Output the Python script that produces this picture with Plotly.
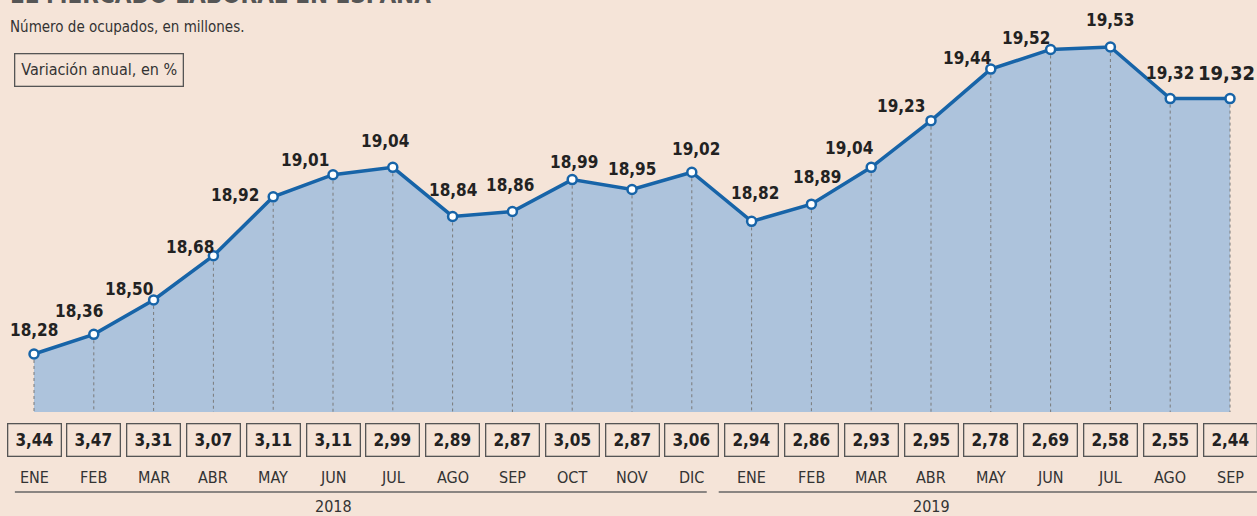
import plotly.graph_objects as go

# ---- data ----
months = ["ENE", "FEB", "MAR", "ABR", "MAY", "JUN", "JUL", "AGO", "SEP", "OCT", "NOV", "DIC",
          "ENE", "FEB", "MAR", "ABR", "MAY", "JUN", "JUL", "AGO", "SEP"]
years = ["2018", "2019"]
ocupados = [18.28, 18.36, 18.50, 18.68, 18.92, 19.01, 19.04, 18.84, 18.86, 18.99, 18.95, 19.02,
            18.82, 18.89, 19.04, 19.23, 19.44, 19.52, 19.53, 19.32]
ocupados_last = 19.32
variacion = [3.44, 3.47, 3.31, 3.07, 3.11, 3.11, 2.99, 2.89, 2.87, 3.05, 2.87, 3.06,
             2.94, 2.86, 2.93, 2.95, 2.78, 2.69, 2.58, 2.55, 2.44]

values = ocupados + [ocupados_last]
xs = list(range(len(values)))

# label offsets (pixels) for value labels
label_dx = [0, -15, -25, -23, -38, -28, -8, 0, -2, 2, 0, 4, 3, 6, -22, -30, -24, -25, 0, 0, 27]
label_dy = [24, 23, 11, 9, 2, 15, 26, 26, 27, 18, 20, 23, 28, 27, 19, 15, 11, 11, 27, 26, 26]

def fmt(v):
    return f"{v:.2f}".replace(".", ",")

FONT = "Liberation Sans Narrow, DejaVu Sans Condensed, Arial Narrow, sans-serif"
BG = "#f5e4d8"
BLUE = "#1764a8"
FILL = "#adc3dc"
Y0 = 18.0438
Y1 = 19.7214

W, H = 1257, 516
PLOT_BOTTOM = 412  # pixel

def py(pix):  # pixel y -> paper y
    return (PLOT_BOTTOM - pix) / PLOT_BOTTOM

def px(pix):
    return pix / W

fig = go.Figure()
# area fill
fig.add_trace(go.Scatter(
    x=xs, y=values, mode="lines", fill="tozeroy", fillcolor=FILL,
    line=dict(width=0, color=FILL), hoverinfo="skip",
))
# dashed drop lines
dx_, dy_ = [], []
for i, v in enumerate(values):
    dx_ += [i, i, None]
    dy_ += [v, Y0, None]
fig.add_trace(go.Scatter(
    x=dx_, y=dy_, mode="lines", line=dict(color="#7a7a7a", width=1, dash="3px,3px"),
    hoverinfo="skip",
))
# main line
fig.add_trace(go.Scatter(
    x=xs, y=values, mode="lines+markers",
    line=dict(color=BLUE, width=3.5),
    marker=dict(size=9, color="white", line=dict(color=BLUE, width=2.5)),
    hoverinfo="skip", cliponaxis=False,
))

shapes = []
annotations = []
for i, v in enumerate(values):
    big = i == len(values) - 1
    annotations.append(dict(x=i, y=v, xref="x", yref="y", text=f"<b>{fmt(v)}</b>",
                            showarrow=False, xshift=label_dx[i], yshift=label_dy[i],
                            font=dict(family=FONT, size=20 if big else 17, color="#222"),
                            yanchor="middle", xanchor="right" if big else "center"))
    # variation box
    annotations.append(dict(x=i, y=py(440), xref="x", yref="paper", text=f"<b>{fmt(variacion[i])}</b>",
                            showarrow=False, width=48, height=27, borderpad=2, borderwidth=1.3,
                            bordercolor="#555", bgcolor=BG,
                            font=dict(family=FONT, size=17, color="#222"),
                            yanchor="middle", xanchor="center", align="center", valign="middle"))
    annotations.append(dict(x=i, y=py(478), xref="x", yref="paper", text=months[i],
                            showarrow=False, font=dict(family=FONT, size=16, color="#333"),
                            yanchor="middle", xanchor="center"))

# year separators
shapes.append(dict(type="line", xref="x", yref="paper", x0=-0.32, x1=11.25, y0=py(492), y1=py(492),
                   line=dict(color="#666", width=1.5)))
shapes.append(dict(type="line", xref="x", yref="paper", x0=11.45, x1=20.45, y0=py(492), y1=py(492),
                   line=dict(color="#666", width=1.5)))
for yr, xc in zip(years, [5, 15]):
    annotations.append(dict(x=xc, y=py(506), xref="x", yref="paper", text=yr, showarrow=False,
                            font=dict(family=FONT, size=16, color="#333"),
                            yanchor="middle", xanchor="center"))

# titles
annotations.append(dict(x=px(8), y=py(-5), xref="paper", yref="paper",
                        text="<b>EL MERCADO LABORAL EN ESPAÑA</b>", showarrow=False,
                        font=dict(family=FONT, size=24, color="#555"),
                        xanchor="left", yanchor="middle"))
annotations.append(dict(x=px(8), y=py(27), xref="paper", yref="paper",
                        text="Número de ocupados, en millones.", showarrow=False,
                        font=dict(family=FONT, size=15, color="#333"),
                        xanchor="left", yanchor="middle"))
annotations.append(dict(x=px(14), y=py(70), xref="paper", yref="paper",
                        text="Variación anual, en %", showarrow=False,
                        font=dict(family=FONT, size=16, color="#333"),
                        xanchor="left", yanchor="middle", bordercolor="#555", borderwidth=1.3,
                        borderpad=6, bgcolor=BG))

fig.update_layout(
    width=W, height=H,
    margin=dict(l=0, r=0, t=0, b=H - PLOT_BOTTOM),
    paper_bgcolor=BG, plot_bgcolor=BG,
    showlegend=False,
    xaxis=dict(range=[-0.5686, 20.4515], visible=False, fixedrange=True),
    yaxis=dict(range=[Y0, Y1], visible=False, fixedrange=True),
    shapes=shapes, annotations=annotations,
)

fig.write_html("out.html", config={"displayModeBar": False},
               post_script="document.body.style.margin='0';document.body.style.overflow='hidden';")
